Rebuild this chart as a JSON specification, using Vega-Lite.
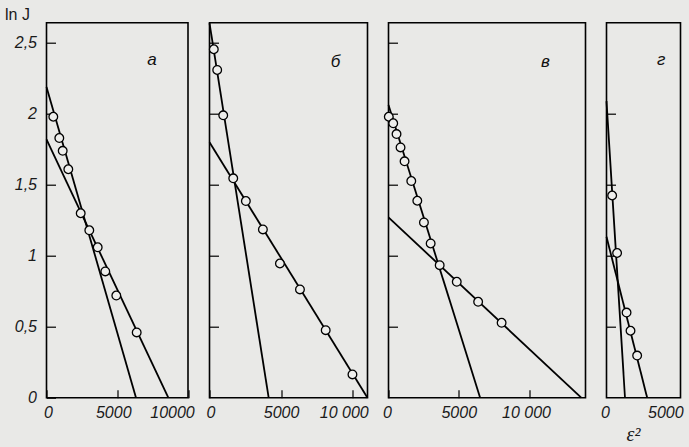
{
  "$schema": "https://vega.github.io/schema/vega-lite/v6.json",
  "background": "#e9e9e7",
  "padding": {"left": 46.5, "top": 22.7, "right": 642.5, "bottom": 424.3},
  "autosize": {"type": "none"},
  "spacing": 21,
  "bounds": "flush",
  "datasets": {
    "pts": [
      {"panel": "a", "x": 481, "y": 1.98},
      {"panel": "a", "x": 905, "y": 1.83},
      {"panel": "a", "x": 1145, "y": 1.74},
      {"panel": "a", "x": 1541, "y": 1.61},
      {"panel": "a", "x": 2417, "y": 1.30},
      {"panel": "a", "x": 3025, "y": 1.18},
      {"panel": "a", "x": 3618, "y": 1.06},
      {"panel": "a", "x": 4155, "y": 0.89},
      {"panel": "a", "x": 4933, "y": 0.72},
      {"panel": "a", "x": 6374, "y": 0.46},
      {"panel": "b", "x": 301, "y": 2.456},
      {"panel": "b", "x": 538, "y": 2.31},
      {"panel": "b", "x": 958, "y": 1.99},
      {"panel": "b", "x": 1657, "y": 1.546},
      {"panel": "b", "x": 2538, "y": 1.386},
      {"panel": "b", "x": 3727, "y": 1.186},
      {"panel": "b", "x": 4916, "y": 0.946},
      {"panel": "b", "x": 6315, "y": 0.763},
      {"panel": "b", "x": 8112, "y": 0.476},
      {"panel": "b", "x": 9979, "y": 0.164},
      {"panel": "c", "x": 21, "y": 1.98},
      {"panel": "c", "x": 336, "y": 1.934},
      {"panel": "c", "x": 571, "y": 1.858},
      {"panel": "c", "x": 857, "y": 1.764},
      {"panel": "c", "x": 1143, "y": 1.666},
      {"panel": "c", "x": 1621, "y": 1.527},
      {"panel": "c", "x": 2050, "y": 1.388},
      {"panel": "c", "x": 2521, "y": 1.235},
      {"panel": "c", "x": 3000, "y": 1.087},
      {"panel": "c", "x": 3643, "y": 0.934},
      {"panel": "c", "x": 4857, "y": 0.817},
      {"panel": "c", "x": 6379, "y": 0.676},
      {"panel": "c", "x": 8050, "y": 0.528},
      {"panel": "d", "x": 400, "y": 1.425},
      {"panel": "d", "x": 750, "y": 1.02},
      {"panel": "d", "x": 1420, "y": 0.60},
      {"panel": "d", "x": 1700, "y": 0.472},
      {"panel": "d", "x": 2170, "y": 0.297}
    ],
    "lines": [
      {"panel": "a", "line": "steep", "x": 0, "y": 2.19},
      {"panel": "a", "line": "steep", "x": 6325, "y": 0},
      {"panel": "a", "line": "shallow", "x": 0, "y": 1.82},
      {"panel": "a", "line": "shallow", "x": 8608, "y": 0},
      {"panel": "b", "line": "steep", "x": 0, "y": 2.64},
      {"panel": "b", "line": "steep", "x": 4130, "y": 0},
      {"panel": "b", "line": "shallow", "x": 0, "y": 1.80},
      {"panel": "b", "line": "shallow", "x": 11028, "y": 0},
      {"panel": "c", "line": "steep", "x": 0, "y": 2.063},
      {"panel": "c", "line": "steep", "x": 6521, "y": 0},
      {"panel": "c", "line": "shallow", "x": 0, "y": 1.271},
      {"panel": "c", "line": "shallow", "x": 13714, "y": 0},
      {"panel": "d", "line": "steep", "x": 0, "y": 2.09},
      {"panel": "d", "line": "steep", "x": 1310, "y": 0},
      {"panel": "d", "line": "shallow", "x": 0, "y": 1.134},
      {"panel": "d", "line": "shallow", "x": 2880, "y": 0}
    ],
    "letters": [
      {"panel": "a", "x": 7456, "y": 2.38, "t": "а"},
      {"panel": "b", "x": 8795, "y": 2.366, "t": "б"},
      {"panel": "c", "x": 11173, "y": 2.366, "t": "в"},
      {"panel": "d", "x": 3873, "y": 2.38, "t": "г"}
    ]
  },
  "hconcat": [
    {
      "width": 141.5, "height": 375,
      "layer": [
        {"data": {"name": "lines"}, "transform": [{"filter": "datum.panel == 'a'"}],
         "mark": {"type": "line", "color": "black", "strokeWidth": 1.8},
         "encoding": {
           "x": {"field": "x", "type": "quantitative", "scale": {"domain": [0, 10000], "nice": false},
                 "axis": {"values": [0, 5000, 10000], "format": "d", "title": null, "tickSize": -8, "labelPadding": 15,
                          "labelOffset": {"condition": [{"test": "datum.value == 10000", "value": -16}, {"test": "datum.value == 5000", "value": -4}], "value": 1.5}}},
           "y": {"field": "y", "type": "quantitative", "scale": {"domain": [0, 2.643], "nice": false},
                 "axis": {"values": [0, 0.5, 1, 1.5, 2, 2.5], "format": ".1~f", "labelExpr": "replace(datum.label, '.', ',')",
                          "tickSize": -9, "labelPadding": 19,
                          "title": "ln J", "titleAngle": 0, "titleX": -42, "titleY": -3, "titleAlign": "left", "titleBaseline": "alphabetic",
                          "titleFont": "Liberation Sans", "titleFontSize": 16, "titleFontWeight": "normal"}},
           "detail": {"field": "line"}
         }},
        {"data": {"name": "pts"}, "transform": [{"filter": "datum.panel == 'a'"}],
         "mark": {"type": "point", "shape": "circle", "filled": false, "fill": "#eeeeec", "fillOpacity": 1, "stroke": "black", "strokeWidth": 1.3, "size": 75, "opacity": 1},
         "encoding": {"x": {"field": "x", "type": "quantitative"}, "y": {"field": "y", "type": "quantitative"}}},
        {"data": {"name": "letters"}, "transform": [{"filter": "datum.panel == 'a'"}],
         "mark": {"type": "text", "font": "Liberation Sans", "fontStyle": "italic", "fontSize": 17, "color": "#111"},
         "encoding": {"x": {"field": "x", "type": "quantitative"}, "y": {"field": "y", "type": "quantitative"}, "text": {"field": "t"}}}
      ]
    },
    {
      "width": 158, "height": 375,
      "layer": [
        {"data": {"name": "lines"}, "transform": [{"filter": "datum.panel == 'b'"}],
         "mark": {"type": "line", "color": "black", "strokeWidth": 1.8},
         "encoding": {
           "x": {"field": "x", "type": "quantitative", "scale": {"domain": [0, 11030], "nice": false},
                 "axis": {"values": [0, 5000, 10000], "format": "d", "title": null, "tickSize": -8, "labelPadding": 15,
                          "labelOffset": {"condition": [{"test": "datum.value == 10000", "value": -9}, {"test": "datum.value == 5000", "value": 0}], "value": 1},
                          "labelExpr": "datum.value == 10000 ? '10 000' : datum.label"}},
           "y": {"field": "y", "type": "quantitative", "scale": {"domain": [0, 2.643], "nice": false},
                 "axis": {"values": [0.5, 1, 1.5, 2, 2.5], "labels": false, "tickSize": -9, "title": null}},
           "detail": {"field": "line"}
         }},
        {"data": {"name": "pts"}, "transform": [{"filter": "datum.panel == 'b'"}],
         "mark": {"type": "point", "shape": "circle", "filled": false, "fill": "#eeeeec", "fillOpacity": 1, "stroke": "black", "strokeWidth": 1.3, "size": 75, "opacity": 1},
         "encoding": {"x": {"field": "x", "type": "quantitative"}, "y": {"field": "y", "type": "quantitative"}}},
        {"data": {"name": "letters"}, "transform": [{"filter": "datum.panel == 'b'"}],
         "mark": {"type": "text", "font": "Liberation Sans", "fontStyle": "italic", "fontSize": 17, "color": "#111"},
         "encoding": {"x": {"field": "x", "type": "quantitative"}, "y": {"field": "y", "type": "quantitative"}, "text": {"field": "t"}}}
      ]
    },
    {
      "width": 197, "height": 375,
      "layer": [
        {"data": {"name": "lines"}, "transform": [{"filter": "datum.panel == 'c'"}],
         "mark": {"type": "line", "color": "black", "strokeWidth": 1.8},
         "encoding": {
           "x": {"field": "x", "type": "quantitative", "scale": {"domain": [0, 14020], "nice": false},
                 "axis": {"values": [0, 5000, 10000], "format": "d", "title": null, "tickSize": -8, "labelPadding": 15,
                          "labelOffset": {"condition": [{"test": "datum.value == 10000", "value": -3}, {"test": "datum.value == 5000", "value": 0}], "value": -1.5},
                          "labelExpr": "datum.value == 10000 ? '10 000' : datum.label"}},
           "y": {"field": "y", "type": "quantitative", "scale": {"domain": [0, 2.643], "nice": false},
                 "axis": {"values": [0.5, 1, 1.5, 2, 2.5], "labels": false, "tickSize": -9, "title": null}},
           "detail": {"field": "line"}
         }},
        {"data": {"name": "pts"}, "transform": [{"filter": "datum.panel == 'c'"}],
         "mark": {"type": "point", "shape": "circle", "filled": false, "fill": "#eeeeec", "fillOpacity": 1, "stroke": "black", "strokeWidth": 1.3, "size": 75, "opacity": 1},
         "encoding": {"x": {"field": "x", "type": "quantitative"}, "y": {"field": "y", "type": "quantitative"}}},
        {"data": {"name": "letters"}, "transform": [{"filter": "datum.panel == 'c'"}],
         "mark": {"type": "text", "font": "Liberation Sans", "fontStyle": "italic", "fontSize": 17, "color": "#111"},
         "encoding": {"x": {"field": "x", "type": "quantitative"}, "y": {"field": "y", "type": "quantitative"}, "text": {"field": "t"}}}
      ]
    },
    {
      "width": 74, "height": 375,
      "title": {"text": "ε²", "orient": "bottom", "anchor": "middle", "dx": -10, "offset": 4,
                "font": "Liberation Serif", "fontStyle": "italic", "fontSize": 20, "fontWeight": "normal", "color": "#1a1a1a"},
      "layer": [
        {"data": {"name": "lines"}, "transform": [{"filter": "datum.panel == 'd'"}],
         "mark": {"type": "line", "color": "black", "strokeWidth": 1.8},
         "encoding": {
           "x": {"field": "x", "type": "quantitative", "scale": {"domain": [0, 5240], "nice": false},
                 "axis": {"values": [0, 5000], "format": "d", "ticks": false, "labelPadding": 7,
                          "labelFlush": 10, "labelFlushOffset": 6, "title": null}},
           "y": {"field": "y", "type": "quantitative", "scale": {"domain": [0, 2.643], "nice": false},
                 "axis": {"values": [0.5, 1, 1.5, 2], "labels": false, "tickSize": -9, "title": null}},
           "detail": {"field": "line"}
         }},
        {"data": {"name": "pts"}, "transform": [{"filter": "datum.panel == 'd'"}],
         "mark": {"type": "point", "shape": "circle", "filled": false, "fill": "#eeeeec", "fillOpacity": 1, "stroke": "black", "strokeWidth": 1.3, "size": 75, "opacity": 1},
         "encoding": {"x": {"field": "x", "type": "quantitative"}, "y": {"field": "y", "type": "quantitative"}}},
        {"data": {"name": "letters"}, "transform": [{"filter": "datum.panel == 'd'"}],
         "mark": {"type": "text", "font": "Liberation Sans", "fontStyle": "italic", "fontSize": 17, "color": "#111"},
         "encoding": {"x": {"field": "x", "type": "quantitative"}, "y": {"field": "y", "type": "quantitative"}, "text": {"field": "t"}}}
      ]
    }
  ],
  "config": {
    "view": {"stroke": "black", "strokeWidth": 1.6, "fill": null},
    "axis": {"grid": false, "domain": false, "tickColor": "black", "tickWidth": 1.2,
             "labelOverlap": false, "labelFlush": false,
             "labelFont": "Liberation Sans", "labelFontStyle": "italic", "labelFontSize": 16, "labelColor": "#1a1a1a",
             "titleColor": "#1a1a1a"}
  }
}
